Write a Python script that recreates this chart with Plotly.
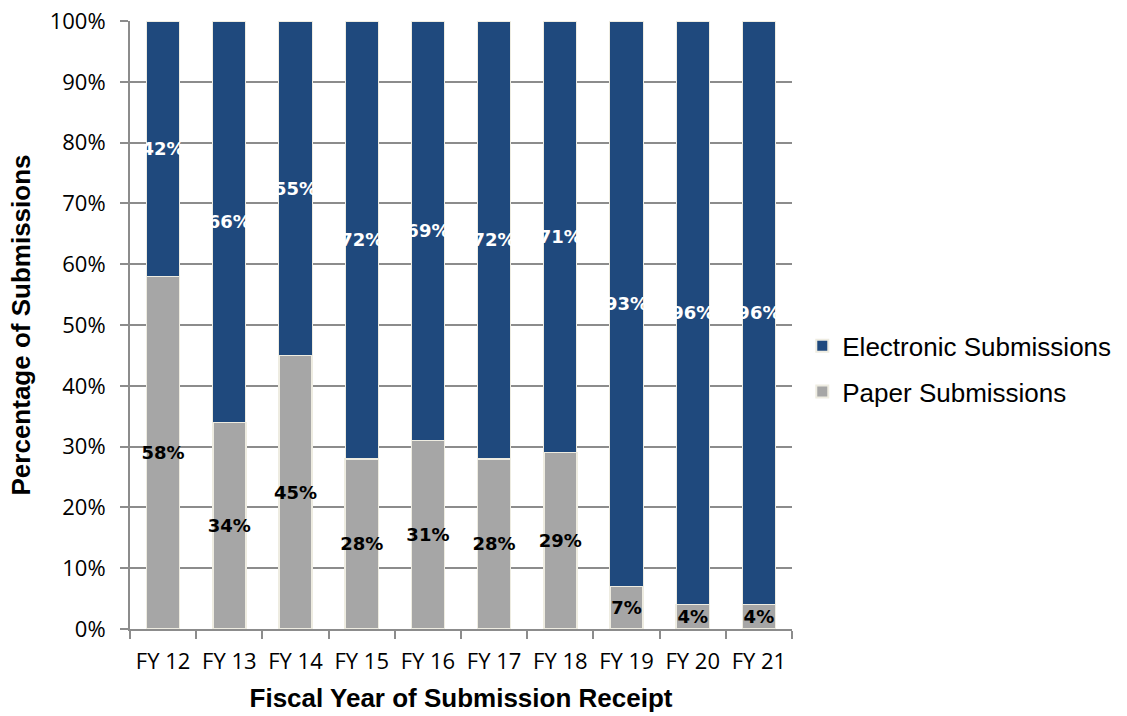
import plotly.graph_objects as go

categories = ["FY 12", "FY 13", "FY 14", "FY 15", "FY 16", "FY 17", "FY 18", "FY 19", "FY 20", "FY 21"]
paper = [58, 34, 45, 28, 31, 28, 29, 7, 4, 4]
electronic = [42, 66, 55, 72, 69, 72, 71, 93, 96, 96]
y_ticks = [0, 10, 20, 30, 40, 50, 60, 70, 80, 90, 100]
y_tick_labels = [f"{v}%" for v in y_ticks]

label_font = dict(family="DejaVu Sans", size=18, weight="bold")

fig = go.Figure()
fig.add_trace(go.Bar(
    x=categories, y=paper, name="Paper Submissions", legendgroup="paper", legendrank=2,
    marker=dict(color="#A6A6A6", line=dict(color="#EEECE1", width=1.5)),
    text=paper, texttemplate="%{text}%", textposition="inside",
    insidetextanchor="middle", textangle=0, constraintext="none",
    textfont=dict(color="black", **label_font),
))
fig.add_trace(go.Bar(
    x=categories, y=electronic, name="Electronic Submissions", legendgroup="electronic", legendrank=1,
    marker=dict(color="#1F497D", line=dict(color="#EEECE1", width=1)),
    text=electronic, texttemplate="%{text}%", textposition="inside",
    insidetextanchor="middle", textangle=0, constraintext="none",
    textfont=dict(color="white", **label_font),
))

fig.update_layout(
    barmode="stack", bargap=0.5,
    width=1127, height=716,
    margin=dict(l=130, r=334, t=21, b=87),
    paper_bgcolor="white", plot_bgcolor="white",
    font=dict(family="Open Sans", color="black"),
    legend=dict(
        x=1.014, xanchor="left", y=0.428, yanchor="middle",
        traceorder="grouped",
        font=dict(family="Liberation Sans", size=26, color="black"),
        itemsizing="constant", tracegroupgap=9,
    ),
    showlegend=True,
)
fig.update_xaxes(
    title=dict(text="Fiscal Year of Submission Receipt",
               font=dict(family="Liberation Sans", size=26, weight="bold", color="black"),
               standoff=14),
    tickfont=dict(family="Open Sans", size=22, color="black"),
    ticklabelstandoff=12,
    showline=True, linecolor="#8C8C8C", linewidth=2,
    ticks="outside", tickson="boundaries", ticklen=8, tickcolor="#8C8C8C", tickwidth=2,
    showgrid=False, automargin=False,
)
fig.update_yaxes(
    title=dict(text="Percentage of Submissions",
               font=dict(family="Liberation Sans", size=26, weight="bold", color="black"),
               standoff=12),
    range=[0, 100], tickmode="array", tickvals=y_ticks, ticktext=y_tick_labels,
    tickfont=dict(family="Open Sans", size=22, color="black"),
    ticklabelstandoff=10,
    showline=True, linecolor="#8C8C8C", linewidth=2,
    ticks="outside", ticklen=8, tickcolor="#8C8C8C", tickwidth=2,
    showgrid=True, gridcolor="#8C8C8C", gridwidth=2,
    zeroline=False, automargin=False,
)

fig.write_html("out.html")
